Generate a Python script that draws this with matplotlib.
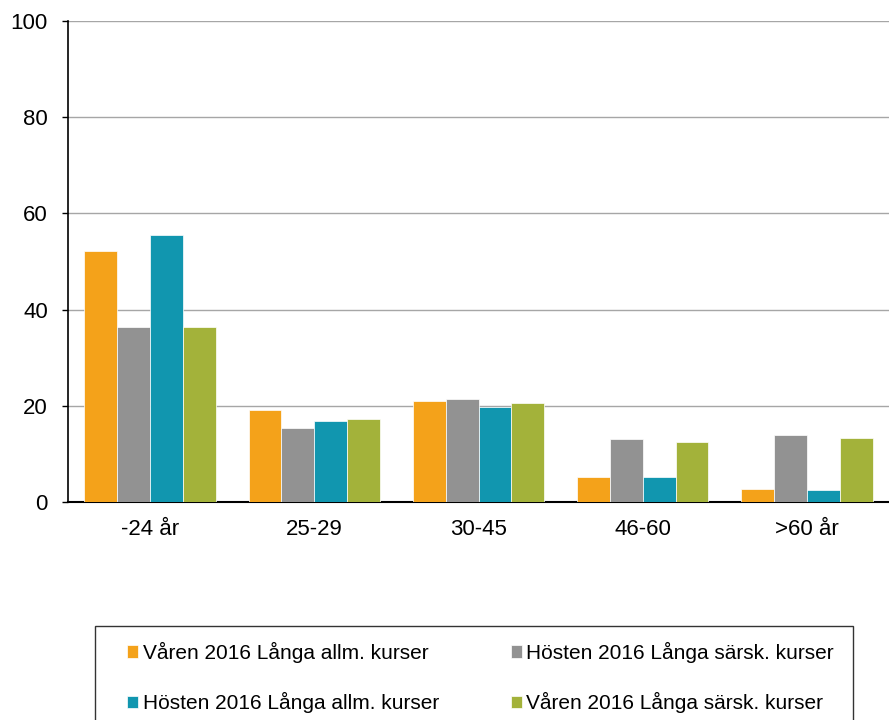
import numpy as np
import matplotlib
matplotlib.use('Agg')
from matplotlib import pyplot as plt
from matplotlib.patches import Rectangle

plt.rcParams['font.family'] = ['Liberation Sans', 'DejaVu Sans']

categories = ['-24 år', '25-29', '30-45', '46-60', '>60 år']
series_names = ['Våren 2016 Långa allm. kurser', 'Hösten 2016 Långa särsk. kurser',
                'Hösten 2016 Långa allm. kurser', 'Våren 2016 Långa särsk. kurser']
varen_allm = [52.2, 19.1, 21.1, 5.1, 2.7]
hosten_sarsk = [36.4, 15.3, 21.4, 13.1, 13.9]
hosten_allm = [55.5, 16.9, 19.8, 5.3, 2.5]
varen_sarsk = [36.4, 17.3, 20.6, 12.5, 13.4]
colors = ['#F4A21A', '#929292', '#1196AF', '#A3B23A']
yticks = [0, 20, 40, 60, 80, 100]


def plot():
	fig = plt.figure(figsize=(8.89, 7.2), dpi=100)
	ax = fig.add_axes([68 / 889, 1 - 502 / 720, 1 - 68 / 889, (502 - 21) / 720])
	x = np.arange(len(categories))
	w = 0.2
	data = [varen_allm, hosten_sarsk, hosten_allm, varen_sarsk]
	handles = []
	for i, vals in enumerate(data):
		b = ax.bar(x + (i - 1.5) * w, vals, w, color=colors[i], edgecolor='white',
				   linewidth=0.5, label=series_names[i], zorder=3)
		handles.append(b)

	ax.set_xlim(-0.5, len(categories) - 0.5)
	ax.set_ylim(0, 100)
	ax.set_yticks(yticks)
	ax.set_xticks(x)
	ax.set_xticklabels(categories)
	ax.tick_params(axis='x', length=0, pad=12, labelsize=16)
	ax.tick_params(axis='y', length=4.5, width=1, pad=10, labelsize=16)
	ax.yaxis.grid(True, color='#a6a6a6', linewidth=1, zorder=0)
	for s in ['top', 'right']:
		ax.spines[s].set_visible(False)
	ax.spines['left'].set_linewidth(1.2)
	ax.spines['bottom'].set_linewidth(1.5)

	# legend box, runs off the bottom of the picture
	fig.patches.append(Rectangle((95 / 889, -0.05), (853 - 95) / 889, 0.05 + (720 - 626) / 720,
								 transform=fig.transFigure, fill=False,
								 edgecolor='#333333', linewidth=1))
	order = [0, 2, 1, 3]
	fig.legend([handles[i] for i in order], [series_names[i] for i in order],
			   loc='upper left', bbox_to_anchor=(127 / 889, 1 - 642 / 720),
			   ncol=2, frameon=False, fontsize=15,
			   handlelength=0.55, handleheight=0.55, handletextpad=0.2,
			   columnspacing=3.45, labelspacing=1.4, borderpad=0,
			   borderaxespad=0)

	fig.savefig('out.png', dpi=100)


if __name__ == "__main__":
	plot()
